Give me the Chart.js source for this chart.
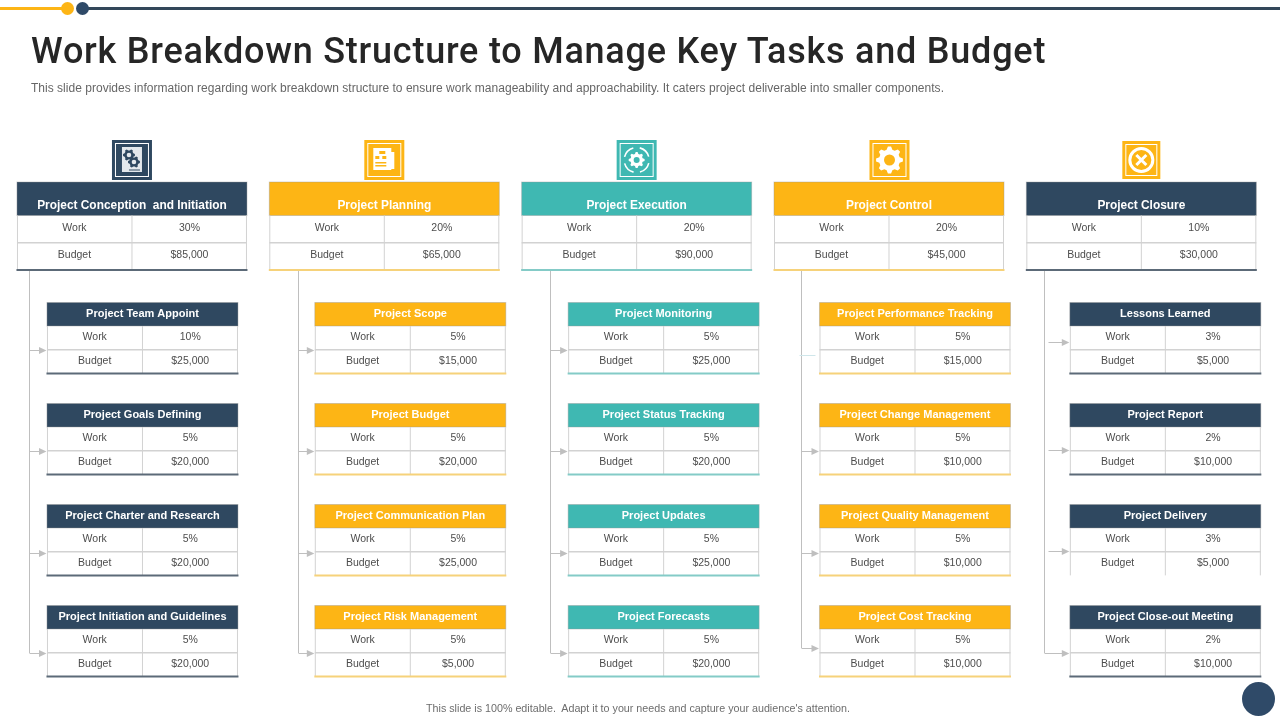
<!DOCTYPE html>
<html>
<head>
<meta charset="utf-8">
<title>Work Breakdown Structure</title>
<script src="https://cdn.jsdelivr.net/npm/chart.js@4"></script>
<style>
  html, body { margin: 0; padding: 0; background: #fff; }
  #slide { position: relative; width: 1280px; height: 720px; overflow: hidden; font-family: "Liberation Sans", Arial, sans-serif; }
  #board { position: absolute; left: 0; top: 0; }
  .bar { position: absolute; height: 3px; top: 7px; }
  .dot { position: absolute; border-radius: 50%; }
  h1 { position: absolute; left: 31px; top: 29px; margin: 0; font: 500 36px/44px Roboto, sans-serif; letter-spacing: 0.77px; color: #262626; white-space: nowrap; }
  #sub { position: absolute; left: 31px; top: 81px; font-size: 12px; line-height: 15px; letter-spacing: 0.02px; color: #666; white-space: nowrap; }
  #foot { position: absolute; left: 0; width: 1276px; top: 701px; text-align: center; font-size: 10.73px; line-height: 14px; color: #6d6d6d; white-space: nowrap; }
</style>
</head>
<body>
<div id="slide">
  <canvas id="board" width="1280" height="720"></canvas>
  <div class="bar" style="left:0;width:64px;background:#fdb515"></div>
  <div class="bar" style="left:86px;width:1194px;background:#33475a"></div>
  <div class="dot" style="left:61px;top:2px;width:13px;height:13px;background:#fdb515"></div>
  <div class="dot" style="left:76px;top:2px;width:13px;height:13px;background:#2f4a68"></div>
  <h1>Work Breakdown Structure to Manage Key Tasks and Budget</h1>
  <div id="sub">This slide provides information regarding work breakdown structure to ensure work manageability and approachability. It caters project deliverable into smaller components.</div>
  <div id="foot">This slide is 100% editable.&nbsp; Adapt it to your needs and capture your audience's attention.</div>
  <div class="dot" style="left:1242px;top:682px;width:33px;height:34px;background:#2f4a68"></div>
</div>
<script>
// ---- data ----
const phases = ["Project Conception  and Initiation", "Project Planning", "Project Execution", "Project Control", "Project Closure"];
const phaseWork = ["30%", "20%", "20%", "20%", "10%"];
const phaseBudget = ["$85,000", "$65,000", "$90,000", "$45,000", "$30,000"];

const rows = ["Phase", "Task 1", "Task 2", "Task 3", "Task 4"];

const conceptionTasks = ["Project Team Appoint", "Project Goals Defining", "Project Charter and Research", "Project Initiation and Guidelines"];
const conceptionWork = ["10%", "5%", "5%", "5%"];
const conceptionBudget = ["$25,000", "$20,000", "$20,000", "$20,000"];

const planningTasks = ["Project Scope", "Project Budget", "Project Communication Plan", "Project Risk Management"];
const planningWork = ["5%", "5%", "5%", "5%"];
const planningBudget = ["$15,000", "$20,000", "$25,000", "$5,000"];

const executionTasks = ["Project Monitoring", "Project Status Tracking", "Project Updates", "Project Forecasts"];
const executionWork = ["5%", "5%", "5%", "5%"];
const executionBudget = ["$25,000", "$20,000", "$25,000", "$20,000"];

const controlTasks = ["Project Performance Tracking", "Project Change Management", "Project Quality Management", "Project Cost Tracking"];
const controlWork = ["5%", "5%", "5%", "5%"];
const controlBudget = ["$15,000", "$10,000", "$10,000", "$10,000"];

const closureTasks = ["Lessons Learned", "Project Report", "Project Delivery", "Project Close-out Meeting"];
const closureWork = ["3%", "2%", "3%", "2%"];
const closureBudget = ["$5,000", "$10,000", "$5,000", "$10,000"];

const allTasks = [conceptionTasks, planningTasks, executionTasks, controlTasks, closureTasks];
const allWork = [conceptionWork, planningWork, executionWork, controlWork, closureWork];
const allBudget = [conceptionBudget, planningBudget, executionBudget, controlBudget, closureBudget];

// ---- look ----
const NAVY = "#2f4860", YELLOW = "#fdb515", TEAL = "#3fb8b2";
const headColor = [NAVY, YELLOW, TEAL, YELLOW, NAVY];
const iconColor = [NAVY, YELLOW, TEAL, YELLOW, YELLOW];
const footColor = ["#5c6a78", "#f6d27a", "#84cbc7", "#f6d27a", "#5c6a78"];
const taskShift = [10.5, 26, 27, 26, 24];       // task card centre relative to the phase centre
const trunkShift = [-102.5, -86.5, -86.5, -88, -97]; // connector relative to the phase centre
const arrowY = [
  [350, 451, 553, 653],
  [350, 451, 553, 653],
  [350, 451, 553, 653],
  [355, 451, 553, 648],
  [342, 450, 551, 653]
];
const GRID = "#d2d2d2", ARROW = "#bfbfbf", TEXT = "#4d4d4d";

function drawTable(ctx, cx, top, w, headH, rowH, title, work, budget, p, opts) {
  const x0 = cx - w / 2, r1 = top + headH, r2 = r1 + rowH, r3 = r2 + rowH;
  ctx.fillStyle = headColor[p];
  ctx.fillRect(x0, top, w, headH);
  ctx.strokeStyle = "rgba(150,150,150,.4)";
  ctx.lineWidth = 1;
  ctx.strokeRect(x0, top, w, headH);

  ctx.strokeStyle = GRID;
  ctx.beginPath();
  ctx.moveTo(x0 + .5, r1); ctx.lineTo(x0 + .5, r3);
  ctx.moveTo(x0 + w - .5, r1); ctx.lineTo(x0 + w - .5, r3);
  ctx.moveTo(cx, r1); ctx.lineTo(cx, r3);
  ctx.stroke();
  ctx.lineWidth = 1.5;
  ctx.beginPath();
  ctx.moveTo(x0, r2); ctx.lineTo(x0 + w, r2);
  ctx.stroke();
  if (!opts.open) {
    ctx.strokeStyle = footColor[p];
    ctx.lineWidth = 2;
    ctx.beginPath();
    ctx.moveTo(x0 - .5, r3); ctx.lineTo(x0 + w + .5, r3);
    ctx.stroke();
  }

  ctx.textAlign = "center";
  ctx.textBaseline = "middle";
  ctx.fillStyle = "#fff";
  ctx.font = "bold " + opts.headFont + "px 'Liberation Sans'";
  ctx.fillText(title, cx, top + opts.headText);
  ctx.fillStyle = TEXT;
  ctx.font = "10.5px 'Liberation Sans'";
  ctx.fillText("Work", cx - w / 4, r1 + rowH / 2 - opts.cellLift);
  ctx.fillText(work, cx + w / 4, r1 + rowH / 2 - opts.cellLift);
  ctx.fillText("Budget", cx - w / 4, r2 + rowH / 2 - opts.cellLift + .5);
  ctx.fillText(budget, cx + w / 4, r2 + rowH / 2 - opts.cellLift + .5);
}

function gear(ctx, x, y, r, teeth) {
  ctx.beginPath();
  for (let i = 0; i < teeth * 2; i++) {
    const a0 = (i - .3) * Math.PI / teeth, a1 = (i + .3) * Math.PI / teeth;
    const rr = i % 2 ? r * .78 : r;
    ctx.lineTo(x + Math.cos(a0) * rr, y + Math.sin(a0) * rr);
    ctx.lineTo(x + Math.cos(a1) * rr, y + Math.sin(a1) * rr);
  }
  ctx.closePath();
  ctx.fill();
}

function drawIcon(ctx, p, x, y) {
  const s = p === 4 ? 38 : 40;
  const bg = iconColor[p];
  ctx.fillStyle = bg;
  ctx.fillRect(x - s / 2, y - s / 2, s, s);
  ctx.strokeStyle = "#fff";
  ctx.lineWidth = 1;
  ctx.strokeRect(x - s / 2 + 3.5, y - s / 2 + 3.5, s - 7, s - 7);
  ctx.fillStyle = "#fff";
  ctx.strokeStyle = "#fff";
  if (p === 0) {
    ctx.fillStyle = "#e4e8ec";
    ctx.fillRect(x - 10, y - 13, 20, 25);
    ctx.fillStyle = NAVY;
    gear(ctx, x - 3, y - 5, 6, 6);
    gear(ctx, x + 2, y + 2, 6, 6);
    ctx.fillStyle = "#e4e8ec";
    ctx.beginPath(); ctx.arc(x - 3, y - 5, 2.3, 0, 7); ctx.fill();
    ctx.beginPath(); ctx.arc(x + 2, y + 2, 2.3, 0, 7); ctx.fill();
    ctx.fillStyle = NAVY;
    ctx.fillRect(x - 3, y + 9.5, 11, 1);
  } else if (p === 1) {
    ctx.fillRect(x - 11, y - 12, 18, 22);
    ctx.fillRect(x + 6, y - 8, 4, 17);
    ctx.fillStyle = bg;
    ctx.fillRect(x - 5, y - 9, 6, 3);
    ctx.fillRect(x - 9, y - 4, 4, 3);
    ctx.fillRect(x - 2, y - 4, 4, 3);
    ctx.fillRect(x - 9, y + 2, 11, 1.5);
    ctx.fillRect(x - 9, y + 5, 11, 1.5);
  } else if (p === 2) {
    gear(ctx, x, y, 8, 8);
    ctx.fillStyle = bg;
    ctx.beginPath(); ctx.arc(x, y, 3, 0, 7); ctx.fill();
    ctx.lineWidth = 1.6;
    for (let i = 0; i < 4; i++) {
      const a = i * Math.PI / 2 + .25;
      ctx.beginPath();
      ctx.arc(x, y, 12.5, a, a + 1.05);
      ctx.stroke();
    }
  } else if (p === 3) {
    gear(ctx, x, y, 13.5, 8);
    ctx.fillStyle = bg;
    ctx.beginPath(); ctx.arc(x, y, 5.5, 0, 7); ctx.fill();
  } else {
    ctx.lineWidth = 3;
    ctx.beginPath(); ctx.arc(x, y, 11.5, 0, 7); ctx.stroke();
    ctx.beginPath();
    ctx.moveTo(x - 5, y - 5); ctx.lineTo(x + 5, y + 5);
    ctx.moveTo(x + 5, y - 5); ctx.lineTo(x - 5, y + 5);
    ctx.stroke();
  }
}

const cardPlugin = {
  id: "cards",
  afterDatasetsDraw(chart) {
    const ctx = chart.ctx;
    ctx.save();
    phases.forEach((name, p) => {
      const pts = chart.getDatasetMeta(p).data;
      const cx = pts[0].x;
      const cy = pts[0].y - 10.5;
      const trunk = Math.round(cx + trunkShift[p]) + .5;

      drawIcon(ctx, p, cx + (p === 3 ? .5 : 0), 160);

      // connectors first, cards sit on top
      ctx.strokeStyle = ARROW;
      ctx.lineWidth = 1;
      ctx.beginPath();
      ctx.moveTo(trunk, cy + 44);
      ctx.lineTo(trunk, arrowY[p][3]);
      ctx.stroke();
      const cardLeft = cx + taskShift[p] - 95.5;
      arrowY[p].forEach((ay, i) => {
        if (p === 3 && i === 0) {
          ctx.strokeStyle = "#cfe6ea";
          ctx.beginPath(); ctx.moveTo(trunk - 2, ay + .5); ctx.lineTo(cardLeft - 4, ay + .5); ctx.stroke();
          ctx.strokeStyle = ARROW;
          return;
        }
        const from = p === 4 && i < 3 ? trunk + 4 : trunk;
        ctx.beginPath(); ctx.moveTo(from, ay + .5); ctx.lineTo(cardLeft - 6, ay + .5); ctx.stroke();
        ctx.fillStyle = ARROW;
        ctx.beginPath();
        ctx.moveTo(cardLeft - 8, ay - 3);
        ctx.lineTo(cardLeft - .5, ay + .5);
        ctx.lineTo(cardLeft - 8, ay + 4);
        ctx.closePath();
        ctx.fill();
      });

      drawTable(ctx, cx, cy - 44.5, 230, 33.5, 27.3, name, phaseWork[p], phaseBudget[p], p, { headFont: 11.9, headText: 23.5, cellLift: 1.5 });

      allTasks[p].forEach((task, i) => {
        const pt = pts[i + 1];
        drawTable(ctx, pt.x + taskShift[p], pt.y - 35.5, 191, 23.5, 23.7, task, allWork[p][i], allBudget[p][i], p, {
          headFont: 11, headText: 11, cellLift: .5, open: p === 4 && i === 2
        });
      });
    });
    ctx.restore();
  }
};

new Chart(document.getElementById("board"), {
  type: "scatter",
  data: {
    datasets: phases.map((name) => ({
      label: name,
      data: rows.map((row) => ({ x: name, y: row })),
      pointRadius: 0
    }))
  },
  options: {
    responsive: false,
    animation: false,
    layout: { padding: { left: 5.8, right: 12.5, top: 186.5, bottom: 28.5 } },
    plugins: { legend: { display: false }, tooltip: { enabled: false } },
    scales: {
      x: { type: "category", labels: phases, offset: true, display: false },
      y: { type: "category", labels: rows, offset: true, display: false }
    }
  },
  plugins: [cardPlugin]
});
</script>
</body>
</html>
